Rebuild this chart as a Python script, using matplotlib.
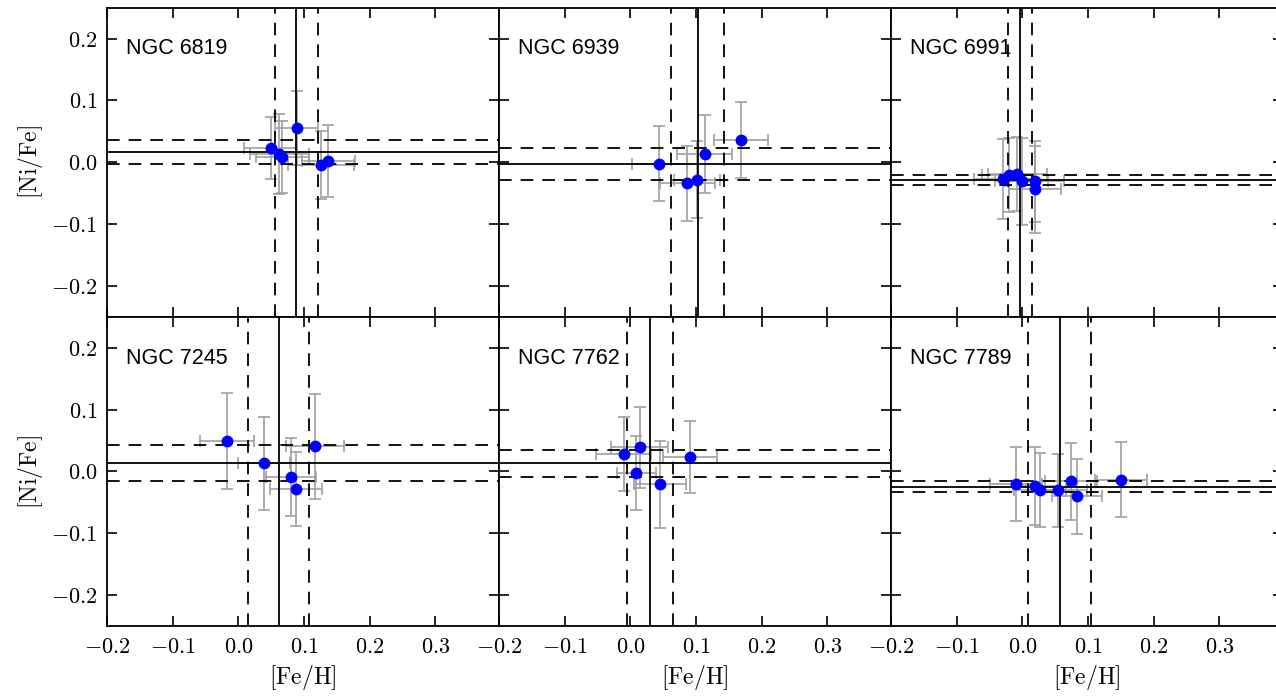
import numpy as np
import matplotlib
matplotlib.use('Agg')
import matplotlib.pyplot as plt
from matplotlib.ticker import FixedLocator, FuncFormatter

plt.rcParams['mathtext.fontset'] = 'cm'

clusters = ['NGC 6819', 'NGC 6939', 'NGC 6991', 'NGC 7245', 'NGC 7762', 'NGC 7789']

# [Fe/H] per star
feh = [
    [0.089, 0.049, 0.062, 0.067, 0.126, 0.137],
    [0.044, 0.087, 0.101, 0.113, 0.169],
    [-0.029, -0.021, -0.008, -0.001, 0.019, 0.019],
    [-0.017, 0.039, 0.080, 0.088, 0.117],
    [-0.010, 0.014, 0.009, 0.045, 0.091],
    [-0.010, 0.020, 0.027, 0.054, 0.074, 0.083, 0.150],
]
feh_err = [
    [0.033, 0.040, 0.045, 0.040, 0.050, 0.040],
    [0.042, 0.042, 0.035, 0.042, 0.041],
    [0.045, 0.040, 0.045, 0.040, 0.045, 0.040],
    [0.041, 0.040, 0.038, 0.040, 0.044],
    [0.042, 0.043, 0.030, 0.040, 0.041],
    [0.040, 0.035, 0.040, 0.045, 0.040, 0.038, 0.040],
]
# [Ni/Fe] per star
nife = [
    [0.056, 0.023, 0.013, 0.008, -0.004, 0.002],
    [-0.002, -0.034, -0.028, 0.013, 0.036],
    [-0.027, -0.020, -0.019, -0.031, -0.031, -0.044],
    [0.049, 0.013, -0.009, -0.028, 0.041],
    [0.028, 0.039, -0.002, -0.021, 0.023],
    [-0.020, -0.024, -0.030, -0.030, -0.016, -0.040, -0.013],
]
nife_err = [
    [0.060, 0.050, 0.065, 0.058, 0.055, 0.058],
    [0.060, 0.061, 0.062, 0.063, 0.061],
    [0.065, 0.060, 0.060, 0.070, 0.065, 0.070],
    [0.078, 0.075, 0.063, 0.060, 0.085],
    [0.060, 0.066, 0.060, 0.070, 0.058],
    [0.060, 0.063, 0.060, 0.059, 0.062, 0.061, 0.060],
]

xticks = [-0.2, -0.1, 0.0, 0.1, 0.2, 0.3]
yticks = [-0.2, -0.1, 0.0, 0.1, 0.2]

fig, axes = plt.subplots(2, 3, figsize=(12.76, 6.98), dpi=100, sharex=True, sharey=True)
fig.subplots_adjust(left=0.0839, right=1.0055, top=0.989, bottom=0.103, wspace=0, hspace=0)

fmt = FuncFormatter(lambda v, p: r'$%.1f$' % v)

for i, ax in enumerate(axes.flat):
    x = np.array(feh[i])
    y = np.array(nife[i])
    ax.errorbar(x, y, xerr=feh_err[i], yerr=nife_err[i], fmt='none',
                ecolor='#a0a0a0', elinewidth=1.2, capsize=4.5, capthick=1.2, zorder=1)

    # mean and scatter
    mx, sx = x.mean(), x.std()
    my, sy = y.mean(), y.std()
    ax.axvline(mx, color='k', lw=1.3, zorder=2)
    ax.axhline(my, color='k', lw=1.3, zorder=2)
    for v in (mx - sx, mx + sx):
        ax.axvline(v, color='k', lw=1.3, dashes=(7, 5), zorder=2)
    for v in (my - sy, my + sy):
        ax.axhline(v, color='k', lw=1.3, dashes=(7, 5), zorder=2)

    ax.plot(x, y, 'o', color='blue', ms=7.5, mec='blue', zorder=3)

    ax.text(0.048, 0.867, clusters[i], transform=ax.transAxes, fontsize=15.5,
            family='Liberation Sans', va='center', ha='left')

    ax.set_xlim(-0.2, 0.397)
    ax.set_ylim(-0.25, 0.25)
    ax.xaxis.set_major_locator(FixedLocator(xticks))
    ax.yaxis.set_major_locator(FixedLocator(yticks))
    ax.xaxis.set_major_formatter(fmt)
    ax.yaxis.set_major_formatter(fmt)
    ax.tick_params(direction='in', length=7, width=1.2, top=True, right=True,
                   labelsize=16)
    ax.tick_params(axis='x', pad=8)
    ax.tick_params(axis='y', pad=7)
    for s in ax.spines.values():
        s.set_linewidth(1.3)

for ax in axes[:, 0]:
    ax.set_ylabel(r'$\mathrm{[Ni/Fe]}$', fontsize=17, labelpad=4)
for ax in axes[1, :]:
    ax.set_xlabel(r'$\mathrm{[Fe/H]}$', fontsize=17, labelpad=4)

plt.savefig('out.png', dpi=100)
